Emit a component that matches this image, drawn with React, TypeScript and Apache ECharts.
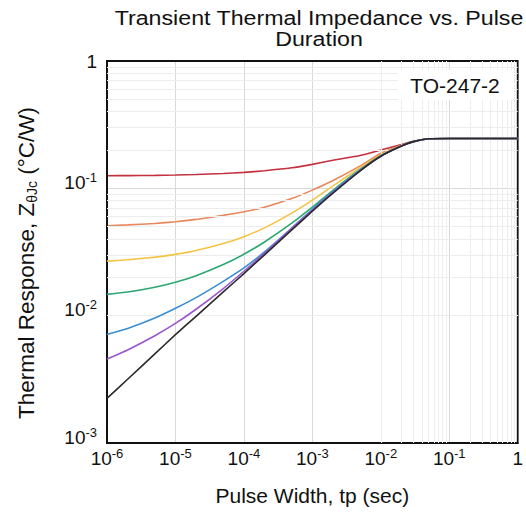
import React, { useEffect, useRef } from 'react';
import * as echarts from 'echarts';

// ---- data ----
const pulseWidth = [1e-6, 2e-6, 5e-6, 1e-5, 2e-5, 5e-5, 1e-4, 2e-4, 5e-4, 1e-3, 2e-3, 5e-3, 1e-2, 2e-2, 3e-2, 5e-2, 1e-1, 1];

const seriesNames = ['D = 0.5', 'D = 0.3', 'D = 0.1', 'D = 0.05', 'D = 0.02', 'D = 0.01', 'Single Pulse'];

const zD50 = [0.1257, 0.1259, 0.1263, 0.1272, 0.1284, 0.1306, 0.1335, 0.1374, 0.1449, 0.1543, 0.166, 0.1811, 0.2, 0.2213, 0.2339, 0.2449, 0.246, 0.246];
const zD30 = [0.0509, 0.0516, 0.053, 0.0547, 0.057, 0.0613, 0.0654, 0.0711, 0.0831, 0.0968, 0.1151, 0.1501, 0.1887, 0.2183, 0.2328, 0.2449, 0.246, 0.246];
const zD10 = [0.0268, 0.02746, 0.02883, 0.0303, 0.03247, 0.03684, 0.04175, 0.04894, 0.06385, 0.08078, 0.1044, 0.1453, 0.1826, 0.2168, 0.2328, 0.2449, 0.246, 0.246];
const zD05 = [0.0147, 0.01532, 0.01672, 0.0183, 0.02058, 0.02518, 0.03036, 0.03791, 0.05321, 0.07117, 0.09656, 0.1406, 0.1803, 0.2158, 0.2328, 0.2449, 0.246, 0.246];
const zD02 = [0.00712, 0.00793, 0.00957, 0.01142, 0.01386, 0.01859, 0.02369, 0.03169, 0.04876, 0.0685, 0.09423, 0.1393, 0.1792, 0.2148, 0.2328, 0.2449, 0.246, 0.246];
const zD01 = [0.00456, 0.00538, 0.00696, 0.00869, 0.01123, 0.01634, 0.02233, 0.03093, 0.04846, 0.06757, 0.09298, 0.138, 0.1788, 0.2148, 0.2328, 0.2449, 0.246, 0.246];
const zSingle = [0.00224, 0.003167, 0.005014, 0.007092, 0.00989, 0.01535, 0.02141, 0.03007, 0.04713, 0.06616, 0.09167, 0.1372, 0.1785, 0.2148, 0.2328, 0.2449, 0.246, 0.246];

const seriesValues = [zD50, zD30, zD10, zD05, zD02, zD01, zSingle];
const seriesColors = ['#c4303f', '#e8865c', '#f3c443', '#2da873', '#3a8ed3', '#9a56cf', '#2a2a2a'];

const xMin = 1e-6;
const xMax = 1;
const yMin = 1e-3;
const yMax = 1;

const chartTitle = 'Transient Thermal Impedance vs. Pulse\nDuration';
const xAxisTitle = 'Pulse Width, tp (sec)';
const yAxisTitle = 'Thermal Response, Z{sub|θJc} (°C/W)';
const packageLabel = 'TO-247-2';

const FONT = '"Liberation Sans", Arial, Helvetica, sans-serif';

function minorValues(fromExp: number, toExp: number): number[] {
  const out: number[] = [];
  for (let e = fromExp; e < toExp; e++) {
    for (let k = 2; k <= 9; k++) out.push(parseFloat((k * Math.pow(10, e)).toPrecision(3)));
  }
  return out;
}

function expOf(v: number): number {
  return Math.round(Math.log10(v));
}

export default function App() {
  const ref = useRef<HTMLDivElement>(null);

  useEffect(() => {
    document.body.style.margin = '0';
    const chart = echarts.init(ref.current as HTMLDivElement, null, { renderer: 'svg' });

    const minorX = minorValues(-6, 0);
    const minorY = minorValues(-3, 0);

    const labelRich = {
      b: { fontSize: 19, fontFamily: FONT, color: '#111', lineHeight: 23 },
      s: { fontSize: 13, fontFamily: FONT, color: '#111', lineHeight: 13, verticalAlign: 'top' },
      one: { fontSize: 19, fontFamily: FONT, color: '#111', lineHeight: 23, padding: [12, 0, 0, 0] },
    };

    const axisLineStyle = { show: true, lineStyle: { color: '#111', width: 1.8 } };

    const option: any = {
      animation: false,
      backgroundColor: '#ffffff',
      grid: {
        left: 107,
        right: 8,
        top: 61,
        bottom: 73,
        show: true,
        borderColor: '#111',
        borderWidth: 1.8,
        backgroundColor: 'transparent',
        z: 5,
      },
      graphic: [
        {
          type: 'text',
          x: 319,
          y: 8,
          z: 20,
          scaleX: 1.19,
          style: {
            text: chartTitle,
            fill: '#111',
            fontSize: 19.5,
            lineHeight: 21,
            fontFamily: FONT,
            align: 'center',
            verticalAlign: 'top',
          },
        },
        {
          type: 'rect',
          z: 10,
          shape: { x: 398, y: 70, width: 116, height: 30 },
          style: { fill: '#ffffff' },
        },
        {
          type: 'text',
          z: 11,
          x: 455,
          y: 85,
          style: {
            text: packageLabel,
            fill: '#111',
            fontSize: 21,
            fontFamily: FONT,
            align: 'center',
            verticalAlign: 'middle',
          },
        },
      ],
      xAxis: {
        type: 'log',
        logBase: 10,
        min: xMin,
        max: xMax,
        name: xAxisTitle,
        nameLocation: 'middle',
        nameGap: 42,
        nameTextStyle: { fontSize: 21, fontFamily: FONT, color: '#111' },
        axisLine: axisLineStyle,
        axisTick: { show: false },
        axisLabel: {
          margin: 4,
          formatter: (v: number) => {
            const e = expOf(v);
            return e === 0 ? '{b|1}' : '{b|10}{s|' + e + '}';
          },
          rich: labelRich,
        },
        splitLine: { show: true, lineStyle: { color: '#d9d9d9', width: 1 } },
      },
      yAxis: {
        type: 'log',
        logBase: 10,
        min: yMin,
        max: yMax,
        name: yAxisTitle,
        nameLocation: 'middle',
        nameRotate: 90,
        nameGap: 68,
        nameTextStyle: {
          fontSize: 22.5,
          fontFamily: FONT,
          color: '#111',
          lineHeight: 26,
          padding: [0, 22, 0, 0],
          rich: {
            sub: { fontSize: 14, fontFamily: FONT, color: '#111', lineHeight: 14, verticalAlign: 'bottom' },
          },
        },
        axisLine: axisLineStyle,
        axisTick: { show: false },
        axisLabel: {
          margin: 10,
          padding: [0, 0, 12, 0],
          formatter: (v: number) => {
            const e = expOf(v);
            return e === 0 ? '{one|1}' : '{b|10}{s|' + e + '}';
          },
          rich: labelRich,
        },
        splitLine: { show: true, lineStyle: { color: '#d9d9d9', width: 1 } },
      },
      series: [
        {
          name: 'minor grid',
          type: 'line',
          data: [[xMin, yMin]],
          showSymbol: false,
          symbol: 'none',
          silent: true,
          z: 1,
          lineStyle: { width: 0 },
          markLine: {
            silent: true,
            symbol: ['none', 'none'],
            label: { show: false },
            lineStyle: { color: '#ededed', width: 1, type: 'solid' },
            emphasis: { disabled: true },
            data: [
              ...minorX.map((v) => ({ xAxis: v })),
              ...minorY.map((v) => ({ yAxis: v })),
            ],
          },
        },
        ...seriesValues.map((vals, i) => ({
          name: seriesNames[i],
          type: 'line',
          data: pulseWidth.map((x, j) => [x, vals[j]]),
          showSymbol: false,
          symbol: 'none',
          smooth: 0.15,
          z: 3 + i,
          lineStyle: { color: seriesColors[i], width: 1.6 },
          itemStyle: { color: seriesColors[i] },
        })),
      ],
    };

    chart.setOption(option);
    return () => chart.dispose();
  }, []);

  return <div ref={ref} style={{ width: 526, height: 516 }} />;
}
